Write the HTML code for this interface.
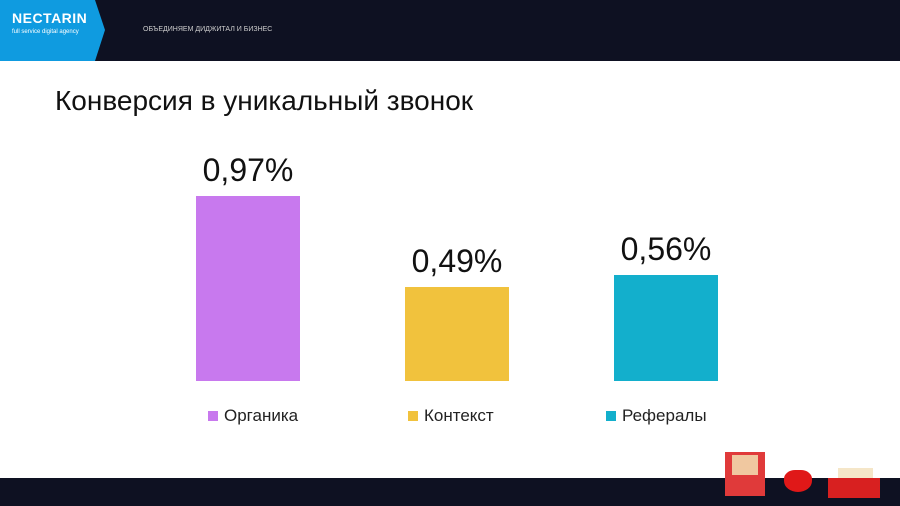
<!DOCTYPE html>
<html><head><meta charset="utf-8"><style>
body{margin:0;width:900px;height:506px;position:relative;background:#fff;font-family:"Liberation Sans",sans-serif;overflow:hidden}
.a{position:absolute}
.v{position:absolute;font-size:32px;color:#111;width:160px;text-align:center}
.lg{position:absolute;top:406px;font-size:17px;color:#222}
.lg span{display:inline-block;width:10px;height:10px;margin-right:6px;vertical-align:0px}
</style></head><body>
<div class="a" style="left:0;top:0;width:900px;height:61px;background:#0e1122"></div>
<svg class="a" style="left:0;top:0" width="110" height="61"><polygon points="0,0 95,0 105,30 95,61 0,61" fill="#0f9be0"/></svg>
<div class="a" style="left:12px;top:10px;color:#fff;font-weight:bold;font-size:14px;letter-spacing:0.5px">NECTARIN</div>
<div class="a" style="left:12px;top:29px;color:#fff;font-size:6px">full service digital agency</div>
<div class="a" style="left:143px;top:26px;color:#ccc;font-size:7px">ОБЪЕДИНЯЕМ ДИДЖИТАЛ И БИЗНЕС</div>
<div class="a" style="left:55px;top:85px;font-size:28px;color:#111">Конверсия в уникальный звонок</div>
<div class="a" style="left:196px;top:196px;width:104px;height:185px;background:#c879ee"></div>
<div class="a" style="left:405px;top:287px;width:104px;height:94px;background:#f1c23d"></div>
<div class="a" style="left:614px;top:275px;width:104px;height:106px;background:#13afcc"></div>
<div class="v" style="left:168px;top:152px">0,97%</div>
<div class="v" style="left:377px;top:243px">0,49%</div>
<div class="v" style="left:586px;top:231px">0,56%</div>
<div class="lg" style="left:208px"><span style="background:#c879ee"></span>Органика</div>
<div class="lg" style="left:408px"><span style="background:#f1c23d"></span>Контекст</div>
<div class="lg" style="left:606px"><span style="background:#13afcc"></span>Рефералы</div>
<div class="a" style="left:0;top:478px;width:900px;height:28px;background:#0e1122"></div>
<div class="a" style="left:725px;top:452px;width:40px;height:44px;background:#e03a3a"></div>
<div class="a" style="left:732px;top:455px;width:26px;height:20px;background:#f0c8a0"></div>
<div class="a" style="left:784px;top:470px;width:28px;height:22px;background:#e01818;border-radius:40% 40% 50% 50%"></div>
<div class="a" style="left:828px;top:478px;width:52px;height:20px;background:#d82020"></div>
<div class="a" style="left:838px;top:468px;width:35px;height:10px;background:#f5e6c8"></div>
</body></html>
